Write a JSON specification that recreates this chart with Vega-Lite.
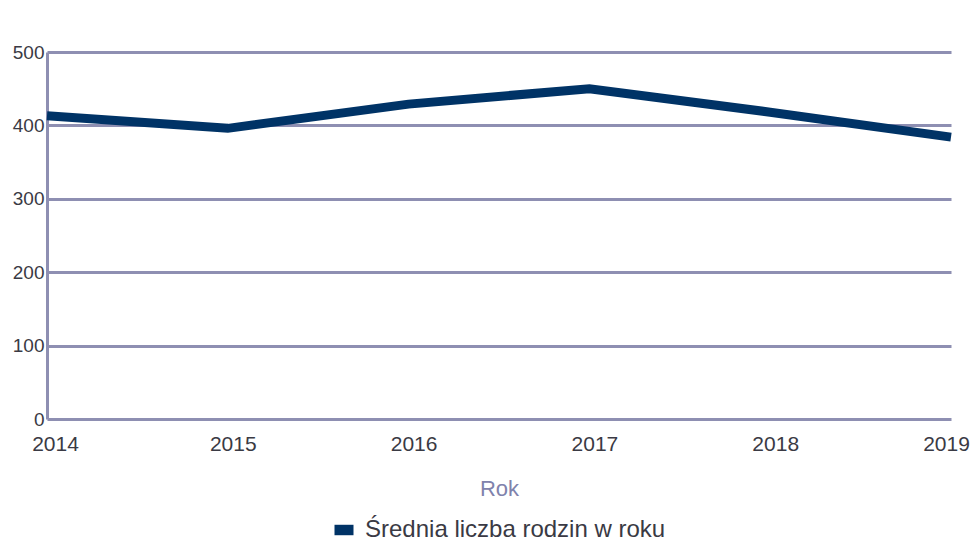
{
  "$schema": "https://vega.github.io/schema/vega-lite/v6.json",
  "autosize": {"type": "none"},
  "width": 904,
  "height": 367,
  "padding": {"left": 47, "top": 52, "right": 23, "bottom": 123},
  "background": "white",
  "data": {
    "values": [
      {"rok": "2014", "wartosc": 413, "seria": "Średnia liczba rodzin w roku"},
      {"rok": "2015", "wartosc": 396, "seria": "Średnia liczba rodzin w roku"},
      {"rok": "2016", "wartosc": 429, "seria": "Średnia liczba rodzin w roku"},
      {"rok": "2017", "wartosc": 450, "seria": "Średnia liczba rodzin w roku"},
      {"rok": "2018", "wartosc": 418, "seria": "Średnia liczba rodzin w roku"},
      {"rok": "2019", "wartosc": 384, "seria": "Średnia liczba rodzin w roku"}
    ]
  },
  "mark": {"type": "line", "strokeWidth": 9, "strokeCap": "butt", "strokeJoin": "miter"},
  "encoding": {
    "x": {
      "field": "rok",
      "type": "ordinal",
      "scale": {"type": "point", "padding": 0},
      "axis": {
        "title": "Rok",
        "labelAngle": 0,
        "labelFont": "Liberation Sans",
        "labelFontSize": 21,
        "labelColor": "#3a3a44",
        "labelPadding": 14,
        "labelOverlap": false,
        "labelBound": false,
        "labelOffset": {"condition": [{"test": "datum.value == '2014'", "value": 8}, {"test": "datum.value == '2019'", "value": -5}], "value": 5},
        "ticks": false,
        "domain": false,
        "grid": false,
        "titleFont": "Liberation Sans",
        "titleFontSize": 22,
        "titleFontWeight": "normal",
        "titleColor": "#7f82ac",
        "titlePadding": 24
      }
    },
    "y": {
      "field": "wartosc",
      "type": "quantitative",
      "scale": {"domain": [0, 500], "nice": false},
      "axis": {
        "title": null,
        "values": [0, 100, 200, 300, 400, 500],
        "labelFont": "Liberation Sans",
        "labelFontSize": 19,
        "labelColor": "#3a3a44",
        "labelPadding": 3,
        "ticks": false,
        "domain": true,
        "domainColor": "#8e8fb2",
        "domainWidth": 3,
        "grid": true,
        "gridColor": "#8e8fb2",
        "gridWidth": 3,
        "gridOpacity": 1
      }
    },
    "color": {
      "field": "seria",
      "type": "nominal",
      "scale": {"range": ["#003366"]},
      "legend": {
        "title": null,
        "orient": "bottom",
        "direction": "horizontal",
        "symbolType": "M-1,-0.55L1,-0.55L1,0.55L-1,0.55Z",
        "symbolSize": 361,
        "labelFont": "Liberation Sans",
        "labelFontSize": 24,
        "labelColor": "#3a3a44",
        "labelLimit": 0,
        "labelOffset": 9,
        "offset": 19,
        "encode": {
          "symbols": {
            "update": {
              "fill": {"value": "#003366"},
              "stroke": {"value": "#003366"},
              "strokeWidth": {"value": 0},
              "opacity": {"value": 1}
            }
          }
        }
      }
    }
  },
  "config": {
    "view": {"stroke": null},
    "legend": {"layout": {"bottom": {"anchor": "middle"}}}
  }
}
